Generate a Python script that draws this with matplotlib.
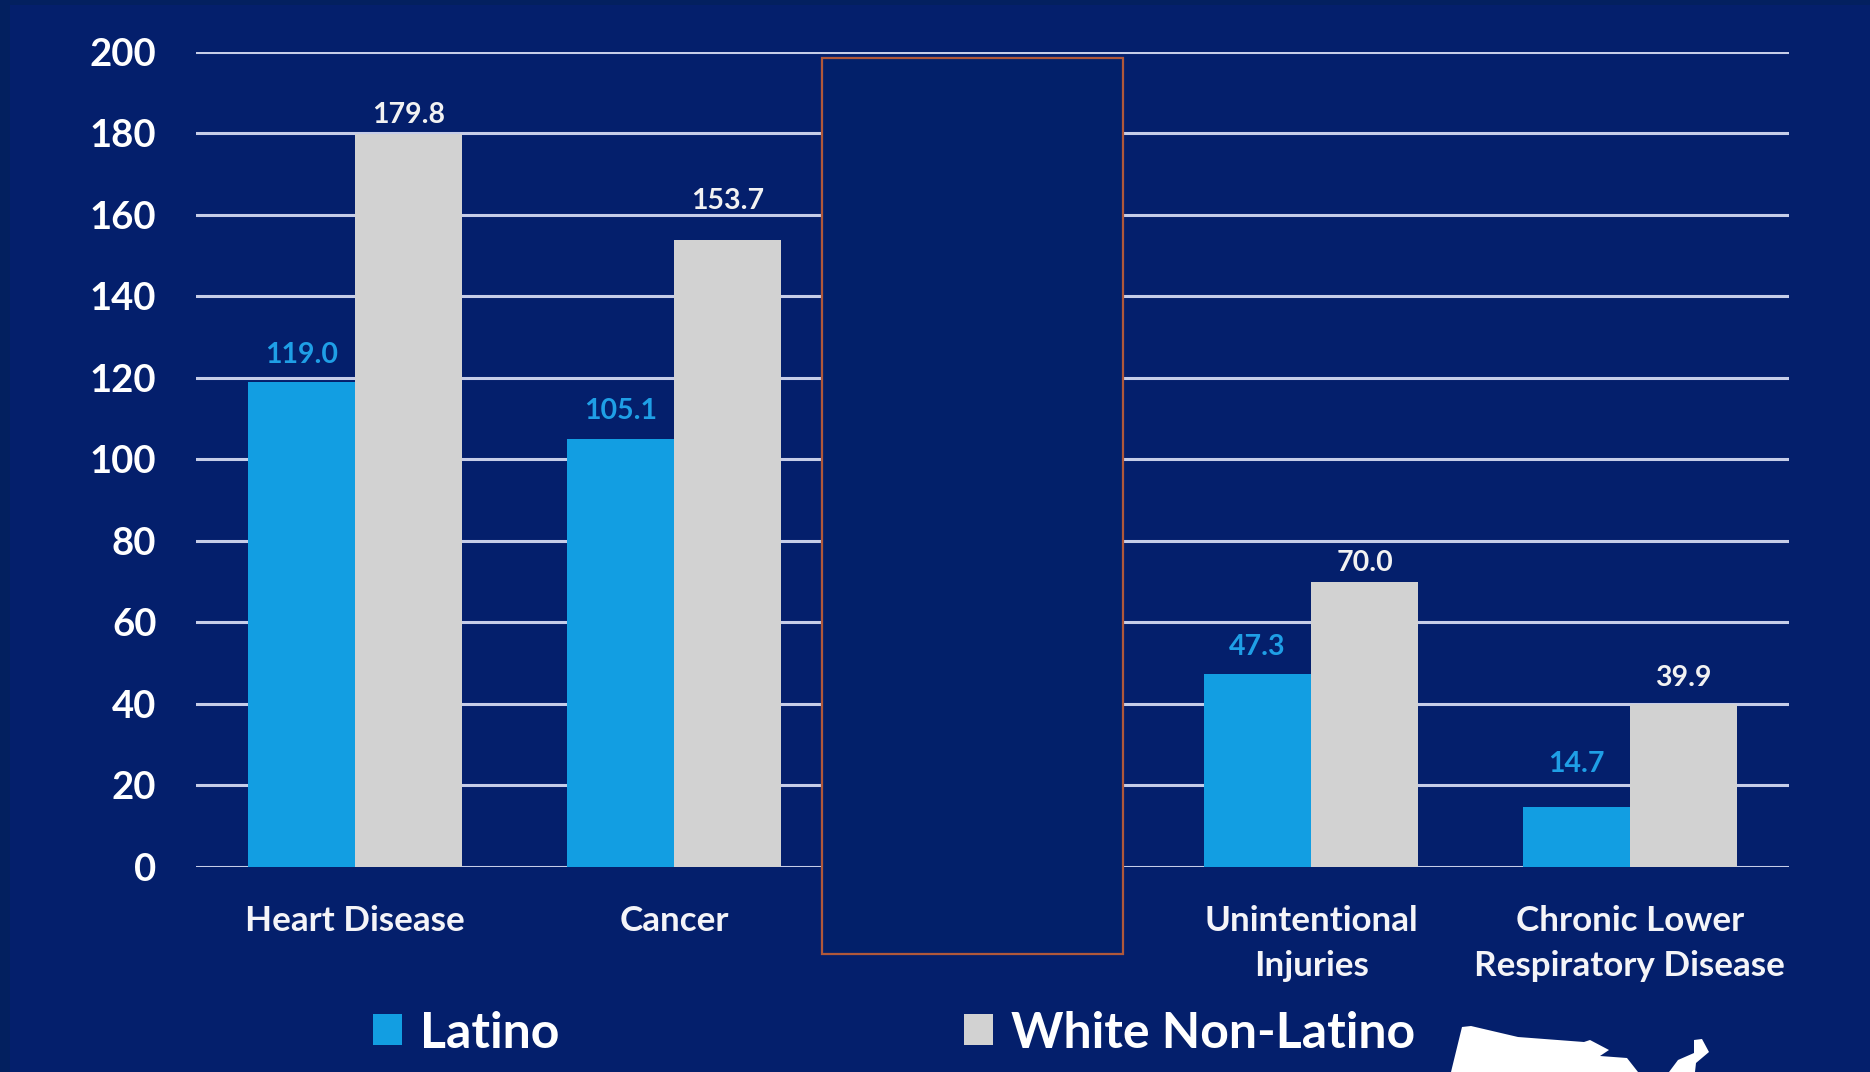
import numpy as np
import matplotlib
matplotlib.use("Agg")
import matplotlib.pyplot as plt
from matplotlib.patches import Rectangle, Polygon

# third category is covered by a box in the source, its values can't be read
categories = ["Heart Disease", "Cancer", "", "Unintentional\nInjuries", "Chronic Lower\nRespiratory Disease"]
latino = [119.0, 105.1, np.nan, 47.3, 14.7]
white = [179.8, 153.7, np.nan, 70.0, 39.9]
yticks = list(range(0, 201, 20))

# labels sit at uneven heights in the source
latino_pad = [10.3, 10.3, 0, 10.3, 21.5]
white_pad = [4.3, 18.9, 0, 4.3, 9.4]

W, H = 1870, 1072
BG = "#041f6c"
EDGE = "#03205f"
BLUE = "#129ee2"
GREY = "#d2d2d2"

plt.rcParams["font.family"] = ["Lato", "DejaVu Sans"]
plt.rcParams["font.weight"] = "bold"


def px(x0, y0, x1, y1):
    # pixel box (y down) to figure fractions
    return [x0 / W, 1 - y1 / H, (x1 - x0) / W, (y1 - y0) / H]


def add_labels(bars, pads, color):
    for b, pad in zip(bars, pads):
        val = b.get_height()
        if np.isnan(val):
            continue
        ax.annotate(f"{val:.1f}", (b.get_x() + b.get_width() / 2, val), xytext=(0, pad),
                    textcoords="offset points", ha="center", va="bottom", color=color,
                    fontsize=20.5, zorder=4)


fig = plt.figure(figsize=(W / 100, H / 100), dpi=100, facecolor=BG)
ax = fig.add_axes(px(196, 51.7, 1789, 867))
ax.set_facecolor(BG)

x = np.arange(len(categories))
w = 0.336
bars1 = ax.bar(x - w / 2, latino, w, color=BLUE, label="Latino", zorder=3)
bars2 = ax.bar(x + w / 2, white, w, color=GREY, label="White Non-Latino", zorder=3)
add_labels(bars1, latino_pad, "#1f9fe6")
add_labels(bars2, white_pad, "#f2f2f2")

ax.set_xlim(-0.5, len(categories) - 0.5)
ax.set_ylim(0, 200)
ax.set_yticks(yticks)
ax.set_xticks(x, categories)
ax.tick_params(axis="y", length=0, pad=28.5, labelsize=27.5, labelcolor="white")
ax.tick_params(axis="x", length=0, pad=27.5, labelsize=25.2, labelcolor="#f4f4f8")
for t in ax.get_xticklabels():
    t.set_linespacing(1.5)
ax.grid(axis="y", color="#c6cde8", lw=2.2, zorder=1)
for s in ax.spines.values():
    s.set_visible(False)

fig.legend(handles=[bars1, bars2], loc="center", bbox_to_anchor=(894 / W, 1 - 1033 / H), ncol=2,
           frameon=False, fontsize=36, labelcolor="white", handlelength=0.58, handleheight=0.58,
           handletextpad=0.35, columnspacing=8.1)

# masking box over the middle category
fig.add_artist(Rectangle((822 / W, 1 - 954 / H), 301 / W, 896 / H, transform=fig.transFigure,
                         facecolor="#02206a", edgecolor="#b0583a", lw=1.6, zorder=5))

# edge bands of the screenshot
fig.add_artist(Rectangle((0, 0), 10 / W, 1, transform=fig.transFigure, facecolor=EDGE, lw=0, zorder=0.5))
fig.add_artist(Rectangle((0, 1 - 5 / H), 1, 5 / H, transform=fig.transFigure, facecolor=EDGE, lw=0, zorder=0.5))

# US map outline clipped by the bottom edge
map_px = [(1451, 1072), (1462, 1027), (1471, 1026), (1518, 1037), (1584, 1042), (1590, 1040), (1609, 1050),
          (1600, 1056), (1627, 1058), (1638, 1072), (1669, 1072), (1678, 1060), (1694, 1053), (1694, 1040),
          (1702, 1039), (1709, 1052), (1696, 1063), (1695, 1072)]
fig.add_artist(Polygon([(a / W, 1 - b / H) for a, b in map_px], closed=True, transform=fig.transFigure,
                       facecolor="white", lw=0, zorder=5))

fig.savefig("out.png", dpi=100, facecolor=fig.get_facecolor())
